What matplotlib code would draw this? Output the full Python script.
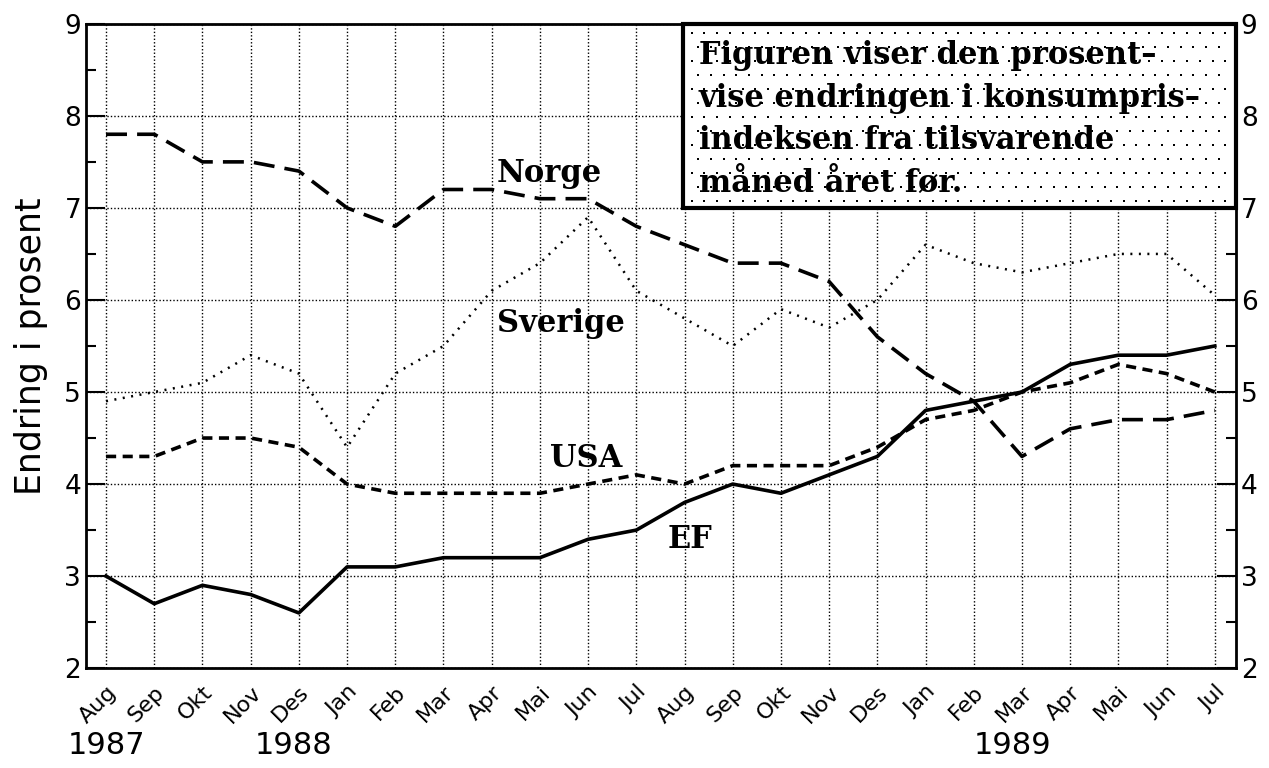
import numpy as np
import matplotlib.pyplot as plt
from matplotlib.patches import Rectangle
from matplotlib.transforms import ScaledTranslation

# Months Aug 1987 - Jul 1989
months = ["Aug", "Sep", "Okt", "Nov", "Des", "Jan", "Feb", "Mar", "Apr", "Mai", "Jun", "Jul",
          "Aug", "Sep", "Okt", "Nov", "Des", "Jan", "Feb", "Mar", "Apr", "Mai", "Jun", "Jul"]

norge = [7.8, 7.8, 7.5, 7.5, 7.4, 7.0, 6.8, 7.2, 7.2, 7.1, 7.1, 6.8,
         6.6, 6.4, 6.4, 6.2, 5.6, 5.2, 4.9, 4.3, 4.6, 4.7, 4.7, 4.8]
sverige = [4.9, 5.0, 5.1, 5.4, 5.2, 4.4, 5.2, 5.5, 6.1, 6.4, 6.9, 6.1,
           5.8, 5.5, 5.9, 5.7, 6.0, 6.6, 6.4, 6.3, 6.4, 6.5, 6.5, 6.05]
usa = [4.3, 4.3, 4.5, 4.5, 4.4, 4.0, 3.9, 3.9, 3.9, 3.9, 4.0, 4.1,
       4.0, 4.2, 4.2, 4.2, 4.4, 4.7, 4.8, 5.0, 5.1, 5.3, 5.2, 5.0]
ef = [3.0, 2.7, 2.9, 2.8, 2.6, 3.1, 3.1, 3.2, 3.2, 3.2, 3.4, 3.5,
      3.8, 4.0, 3.9, 4.1, 4.3, 4.8, 4.9, 5.0, 5.3, 5.4, 5.4, 5.5]

years = ["1987", "1988", "1989"]
year_pos = [0, 3.9, 18.8]

info_text = ("Figuren viser den prosent\u2013\n"
             "vise endringen i konsumpris\u2013\n"
             "indeksen fra tilsvarende\n"
             "m\u00e5ned \u00e5ret f\u00f8r.")

XMIN, XMAX = -0.415, 23.44

fig = plt.figure(figsize=(12.69, 7.68), dpi=100)
ax = fig.add_axes([0.0678, 0.130, 0.9062, 0.839])

x = list(range(len(months)))

# =====================
# LINES
# =====================
ax.plot(x, norge, color="black", lw=2.6, dashes=(5.8, 2.8), zorder=3)
ax.plot(x, sverige, color="black", lw=1.8, dashes=(0.8, 2.6), zorder=3)
ax.plot(x, usa, color="black", lw=2.6, dashes=(2.8, 1.8), zorder=3)
ax.plot(x, ef, color="black", lw=2.6, zorder=3)

# Series names
serif = "DejaVu Serif"
ax.text(8.1, 7.28, "Norge", fontsize=22, fontweight="bold", family=serif, zorder=4)
ax.text(8.1, 5.65, "Sverige", fontsize=22, fontweight="bold", family=serif, zorder=4)
ax.text(9.2, 4.18, "USA", fontsize=22, fontweight="bold", family=serif, zorder=4)
ax.text(11.64, 3.3, "EF", fontsize=22, fontweight="bold", family=serif, zorder=4)

# =====================
# AXES
# =====================
ax.set_xlim(XMIN, XMAX)
ax.set_ylim(2, 9)

ax.set_xticks(x)
ax.set_xticklabels(months, rotation=45, ha="right", rotation_mode="anchor", fontsize=16)
shift = ScaledTranslation(-0.2, 0, fig.dpi_scale_trans)
for label in ax.get_xticklabels():
    label.set_transform(label.get_transform() + shift)

ax.set_yticks(range(2, 10))
ax.set_yticks([2.5, 3.5, 4.5, 5.5, 6.5, 7.5, 8.5], minor=True)
ax.tick_params(axis="y", which="both", direction="in", right=True, labelright=True,
               labelsize=19)
ax.tick_params(axis="y", which="major", length=14, width=1.5)
ax.tick_params(axis="y", which="minor", length=7, width=1.5)
ax.tick_params(axis="x", length=0, pad=10)

ax.grid(True, which="major", color="black", linestyle=(0, (1, 1.5)), linewidth=1.0)

for side in ax.spines:
    ax.spines[side].set_linewidth(2.0)

ax.set_ylabel("Endring i prosent", fontsize=25)
ax.yaxis.set_label_coords(-0.033, 0.5)

for yr, pos in zip(years, year_pos):
    ax.text(pos, -0.12, yr, transform=ax.get_xaxis_transform(), ha="center",
            va="center", fontsize=22)

# =====================
# INFO BOX (dotted texture)
# =====================
box = Rectangle((11.97, 7.0), XMAX - 11.97, 2.0, facecolor="white", edgecolor="none",
                zorder=5)
ax.add_patch(box)

dx = 12.7 / 48.2
dy = 14.0 / 92.0
dot_x, dot_y = [], []
for i, yy in enumerate(np.arange(7.0 + dy / 2, 9.0, dy)):
    offset = 0 if i % 2 == 0 else dx / 2
    for xx in np.arange(12.15 + offset, XMAX - 0.1, dx):
        dot_x.append(xx)
        dot_y.append(yy)
ax.scatter(dot_x, dot_y, s=2.5, color="black", marker="s", linewidths=0, zorder=6)

frame = Rectangle((11.97, 7.0), XMAX - 11.97, 2.0, facecolor="none", edgecolor="black",
                  linewidth=3, zorder=7, clip_on=False)
ax.add_patch(frame)
ax.text(12.3, 7.96, info_text, fontsize=22, fontweight="bold", family=serif,
        va="center", ha="left", linespacing=1.49, zorder=8)

plt.savefig("out.png", dpi=100)
